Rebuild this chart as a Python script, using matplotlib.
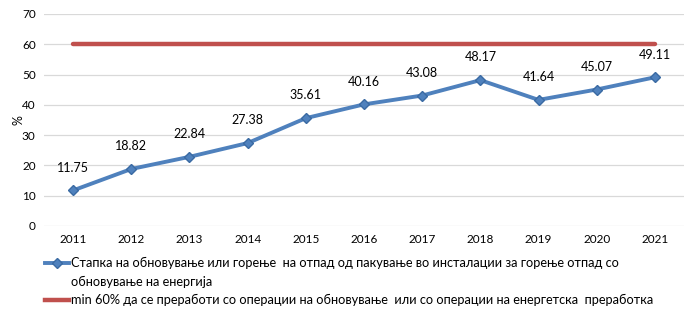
import matplotlib.pyplot as plt
from matplotlib.lines import Line2D

years = ['2011', '2012', '2013', '2014', '2015', '2016', '2017', '2018', '2019', '2020', '2021']
rate = [11.75, 18.82, 22.84, 27.38, 35.61, 40.16, 43.08, 48.17, 41.64, 45.07, 49.11]
target = [60] * len(years)

label_rate = ['Стапка на обновување или горење  на отпад од пакување во инсталации за горење отпад со',
              'обновување на енергија']
label_target = 'min 60% да се преработи со операции на обновување  или со операции на енергетска  преработка'

plt.rcParams['font.family'] = ['Lato', 'DejaVu Sans']

fig = plt.figure(figsize=(6.98, 3.22), dpi=100)
ax = fig.add_axes([44 / 698, 1 - 226 / 322, 640 / 698, 212 / 322])

x = list(range(len(years)))
ax.plot(x, target, color='#C0504D', lw=3.2, solid_capstyle='round', zorder=3)
ax.plot(x, rate, color='#4F81BD', lw=2.8, marker='D', ms=5.5,
        markerfacecolor='#4F81BD', markeredgecolor='#3A6AA3', zorder=4)

for xi, v in zip(x, rate):
    ax.annotate(f'{v:.2f}', (xi, v), xytext=(0, 12), textcoords='offset points',
                ha='center', va='bottom', fontsize=9, color='#000000')

ax.set_xlim(-0.5, len(years) - 0.5)
ax.set_ylim(0, 70)
ax.set_yticks(range(0, 71, 10))
ax.set_xticks(x)
ax.set_xticklabels(years)
ax.tick_params(length=0, labelsize=8.5, pad=6)
ax.grid(axis='y', color='#D9D9D9', lw=0.9)
ax.set_axisbelow(True)
for s in ax.spines.values():
    s.set_visible(False)
ax.set_ylabel('%', fontsize=9, labelpad=-2)

# legend: the wrapped second line of the first entry gets an empty handle
handles = [Line2D([], [], color='#4F81BD', lw=2.8, marker='D', ms=5.5,
                  markeredgecolor='#3A6AA3'),
           Line2D([], [], color='none'),
           Line2D([], [], color='#C0504D', lw=3.2)]
fig.legend(handles, label_rate + [label_target], loc='upper left',
           bbox_to_anchor=(40 / 698, 1 - 252 / 322), frameon=False,
           fontsize=9.2, handlelength=1.9, handletextpad=0.1,
           labelspacing=0.5, borderaxespad=0)

fig.savefig('out.png', dpi=100)
